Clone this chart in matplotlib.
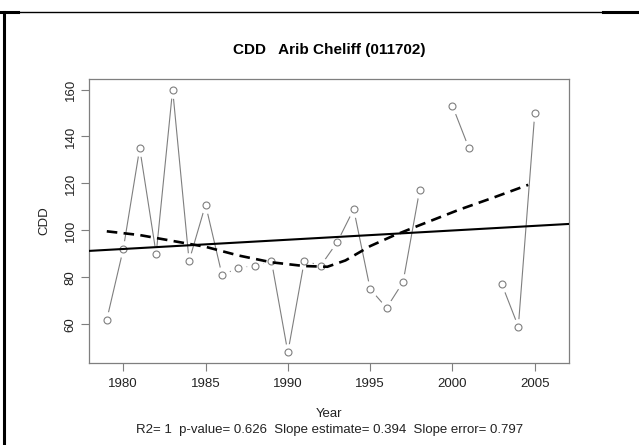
import numpy as np
import matplotlib.pyplot as plt
from matplotlib.lines import Line2D

plt.rcParams.update({
    "font.family": ["Liberation Sans", "DejaVu Sans"],
})

# observed CDD values (NaN = missing year)
years = [1979, 1980, 1981, 1982, 1983, 1984, 1985, 1986, 1987, 1988,
         1989, 1990, 1991, 1992, 1993, 1994, 1995, 1996, 1997, 1998,
         1999, 2000, 2001, 2002, 2003, 2004, 2005]
cdd = [62, 92, 135, 90, 160, 87, 111, 81, 84, 85,
       87, 48, 87, 85, 95, 109, 75, 67, 78, 117,
       np.nan, 153, 135, np.nan, 77, 59, 150]

# smoothed curve
smooth_x = [1979, 1981, 1983, 1985, 1987, 1989, 1991, 1992.4, 1993.5,
            1995, 1996.4, 1998, 2000.4, 2002.5, 2004.6]
smooth_y = [99.6, 98.0, 95.5, 93.0, 89.3, 86.4, 84.8, 84.5, 87.2,
            93.3, 97.7, 102.2, 108.8, 114.0, 119.4]

# linear trend
trend_slope = 0.394
trend_at_1992 = 96.8

xticks = [1980, 1985, 1990, 1995, 2000, 2005]
yticks = [60, 80, 100, 120, 140, 160]

title = "CDD   Arib Cheliff (011702)"
stats = "R2= 1  p-value= 0.626  Slope estimate= 0.394  Slope error= 0.797"

fig = plt.figure(figsize=(6.39, 4.45), dpi=100)
ax = fig.add_axes([0.1393, 0.1843, 0.7512, 0.6382])

grey = '#7f7f7f'
ax.plot(years, cdd, color=grey, linewidth=0.8, zorder=2)
# white halo so the lines stop short of the points
ax.plot(years, cdd, linestyle='none', marker='o', markersize=11,
        markerfacecolor='white', markeredgecolor='white', zorder=3)
ax.plot(years, cdd, linestyle='none', marker='o', markersize=5,
        markerfacecolor='white', markeredgecolor=grey, markeredgewidth=0.8, zorder=4)

ax.axline((1992, trend_at_1992), slope=trend_slope, color='black', linewidth=1.5, zorder=5)
ax.plot(smooth_x, smooth_y, color='black', linewidth=1.9, dashes=(4, 2.4), zorder=5)

ax.set_xlim(1977.92, 2007.08)
ax.set_ylim(43.5, 164.5)
ax.set_xticks(xticks)
ax.set_yticks(yticks)
ax.set_yticklabels([str(v) for v in yticks], rotation=90, va='center')
ax.tick_params(colors=grey, labelcolor='#222222', labelsize=9.5, length=6, width=0.8)
ax.tick_params(axis='y', pad=3)
ax.tick_params(axis='x', pad=5)
for s in ax.spines.values():
    s.set_color(grey)
    s.set_linewidth(0.9)

ax.set_ylabel("CDD", fontsize=9.5, color='#222222', labelpad=10)
fig.text(0.515, 0.888, title, ha='center', va='center', fontsize=11, fontweight='bold')
fig.text(0.515, 0.07, "Year", ha='center', va='center', fontsize=9.5, color='#222222')
fig.text(0.515, 0.034, stats, ha='center', va='center', fontsize=9.5, color='#222222')

# page frame
fig.add_artist(Line2D([0, 1], [1 - 11.5 / 445] * 2, color='black', linewidth=1.0))
fig.add_artist(Line2D([0, 18 / 639], [1 - 11.5 / 445] * 2, color='black', linewidth=2.2))
fig.add_artist(Line2D([603 / 639, 1], [1 - 11.5 / 445] * 2, color='black', linewidth=2.2))
fig.add_artist(Line2D([4 / 639] * 2, [0, 1 - 11.5 / 445], color='black', linewidth=2.2))

plt.savefig('out.png', dpi=100)
